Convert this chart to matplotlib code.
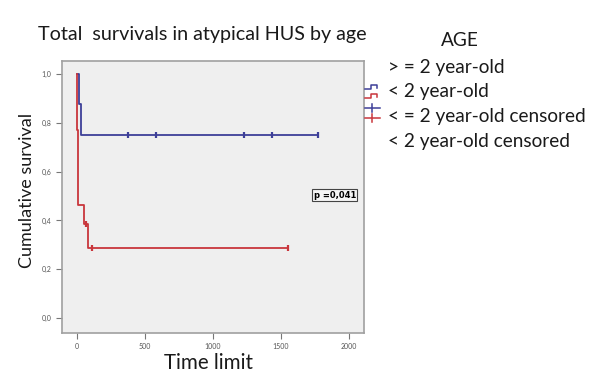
import matplotlib
matplotlib.use("Agg")
import matplotlib.pyplot as plt
from matplotlib.lines import Line2D

plt.rcParams['font.family'] = ['Lato', 'DejaVu Sans']

# Kaplan-Meier steps (days, cumulative survival)
ge2_time = [0, 15, 30, 1772]
ge2_surv = [1.0, 0.875, 0.75, 0.75]
ge2_cens_time = [377, 582, 1229, 1434, 1772]
ge2_cens_surv = [0.75, 0.75, 0.75, 0.75, 0.75]

lt2_time = [0, 2, 4, 5, 6, 8, 10, 12, 55, 85, 1551]
lt2_surv = [1.0, 0.923, 0.846, 0.769, 0.692, 0.615, 0.538, 0.462, 0.385, 0.288, 0.288]
lt2_cens_time = [70, 110, 1551]
lt2_cens_surv = [0.385, 0.288, 0.288]

x_ticks = [0, 500, 1000, 1500, 2000]
y_ticks = [0.0, 0.2, 0.4, 0.6, 0.8, 1.0]
y_ticklabels = ['0,0', '0,2', '0,4', '0,6', '0,8', '1,0']

legend_labels = ['> = 2 year-old', '< 2 year-old',
                 '< = 2 year-old censored', '< 2 year-old censored']
p_text = 'p =0,041'

blue = '#3d3f98'
red = '#c9363c'

fig = plt.figure(figsize=(5.91, 3.78), dpi=100)
ax = fig.add_axes([0.1049, 0.119, 0.511, 0.7196])
ax.set_facecolor('#efefef')

ax.plot(ge2_time, ge2_surv, drawstyle='steps-post', color=blue, lw=1.3)
ax.plot(lt2_time, lt2_surv, drawstyle='steps-post', color=red, lw=1.3)
ax.plot(ge2_cens_time, ge2_cens_surv, ls='none', marker='|', ms=5, mew=1.6, color=blue)
ax.plot(lt2_cens_time, lt2_cens_surv, ls='none', marker='|', ms=5, mew=1.6, color=red)

ax.set_xlim(-108, 2110)
ax.set_ylim(-0.061, 1.053)
ax.set_xticks(x_ticks)
ax.set_xticklabels([str(t) for t in x_ticks])
ax.set_yticks(y_ticks)
ax.set_yticklabels(y_ticklabels)
ax.tick_params(labelsize=5, labelcolor='#555555', color='#777777', length=4, width=0.8)
for s in ax.spines.values():
    s.set_color('#a0a0a0')
    s.set_linewidth(1.2)

ax.text(1896, 0.504, p_text, fontsize=6, fontweight='bold', ha='center', va='center',
        family='DejaVu Sans',
        bbox=dict(boxstyle='square,pad=0.15', fc='#f6f6f6', ec='#444444', lw=0.8))

fig.text(0.342, 0.909, 'Total  survivals in atypical HUS by age', fontsize=14.2,
         ha='center', va='center', color='#1a1a1a')
fig.text(0.046, 0.497, 'Cumulative survival', fontsize=13, rotation=90,
         ha='center', va='center', color='#1a1a1a')
fig.text(0.352, 0.04, 'Time limit', fontsize=14.8, ha='center', va='center', color='#1a1a1a')

# legend drawn by hand on the right
fig.text(0.778, 0.894, 'AGE', fontsize=13.7, ha='center', va='center', color='#1a1a1a')
for i, lab in enumerate(legend_labels):
    y = 1 - (67 + 24.7 * i) / 378
    fig.text(0.656, y, lab, fontsize=13.7, ha='left', va='center', color='#1a1a1a')

def px(x, y):
    return x / 591, 1 - y / 378

for col, dy in [(blue, 0), (red, 9)]:
    xs, ys = zip(*[px(365, 89 + dy), px(371, 89 + dy), px(371, 85 + dy),
                   px(377, 85 + dy), px(377, 88 + dy)])
    fig.add_artist(Line2D(xs, ys, color=col, lw=1.1, transform=fig.transFigure))
for col, yc in [(blue, 108), (red, 118)]:
    xs, ys = zip(px(365, yc), px(380, yc))
    fig.add_artist(Line2D(xs, ys, color=col, lw=1.1, transform=fig.transFigure))
    xs, ys = zip(px(372, yc - 4), px(372, yc + 4))
    fig.add_artist(Line2D(xs, ys, color=col, lw=1.1, transform=fig.transFigure))

fig.savefig('out.png', dpi=100)
